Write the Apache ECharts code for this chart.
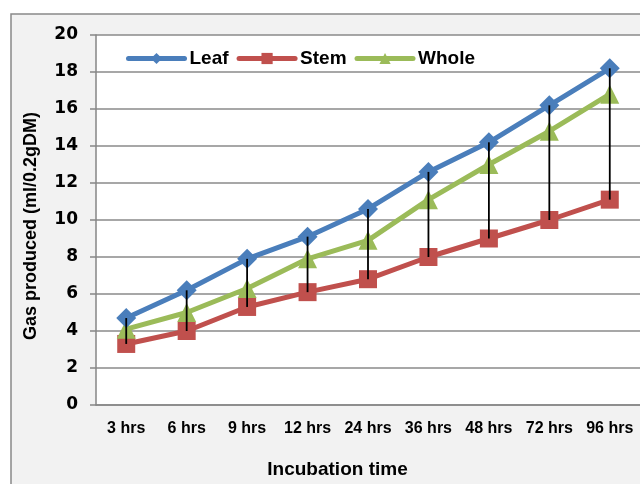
<!DOCTYPE html>
<html><head><meta charset="utf-8">
<script src="https://cdn.jsdelivr.net/npm/echarts@6/dist/echarts.min.js"></script>
<style>html,body{margin:0;padding:0;background:#fff}#c{width:640px;height:484px}</style>
</head><body><div id="c"></div>
<script>
const categories = ['3 hrs','6 hrs','9 hrs','12 hrs','24 hrs','36 hrs','48 hrs','72 hrs','96 hrs'];
const leaf  = [4.7, 6.2, 7.9, 9.1, 10.6, 12.6, 14.2, 16.2, 18.2];
const stem  = [3.3, 4.0, 5.3, 6.1, 6.8, 8.0, 9.0, 10.0, 11.1];
const whole = [4.1, 5.0, 6.3, 7.9, 8.9, 11.1, 13.0, 14.8, 16.8];
const yTicks = {min: 0, max: 20, interval: 2};

const hiLo = categories.map((c, i) => {
  const v = [leaf[i], stem[i], whole[i]];
  return [i, Math.max(...v), Math.min(...v)];
});

const lib = '"Liberation Sans", Arial, sans-serif';
const dv = '"DejaVu Sans", sans-serif';
const chart = echarts.init(document.getElementById('c'));
chart.setOption({
  backgroundColor: '#ffffff',
  animation: false,
  graphic: [{
    type: 'rect', z: -10, silent: true,
    shape: {x: 11, y: 14, width: 700, height: 600},
    style: {fill: '#f2f2f2', stroke: '#898989', lineWidth: 1.5}
  }],
  grid: {left: 96, top: 35, right: 0, bottom: 79, show: true, backgroundColor: '#ffffff', borderWidth: 0},
  legend: {
    left: 121, top: 44, itemWidth: 56, itemHeight: 14, itemGap: 8,
    lineStyle: {width: 5, cap: 'round'},
    textStyle: {fontFamily: lib, fontWeight: 'bold', fontSize: 19, color: '#000'},
    data: ['Leaf','Stem','Whole']
  },
  xAxis: {
    type: 'category', data: categories, boundaryGap: true,
    name: 'Incubation time', nameLocation: 'middle', nameGap: 55,
    nameTextStyle: {fontFamily: lib, fontWeight: 'bold', fontSize: 19, color: '#000', padding: [0, 61, 0, 0]},
    axisLine: {lineStyle: {color: '#868686', width: 1.5}},
    axisTick: {show: false},
    axisLabel: {fontFamily: lib, fontWeight: 'bold', fontSize: 16, color: '#000', margin: 16, interval: 0}
  },
  yAxis: {
    type: 'value', min: yTicks.min, max: yTicks.max, interval: yTicks.interval,
    name: 'Gas produced (ml/0.2gDM)', nameLocation: 'middle', nameGap: 56,
    nameTextStyle: {fontFamily: lib, fontWeight: 'bold', fontSize: 18, color: '#000', padding: [0, 12, 0, 0]},
    axisLine: {show: true, lineStyle: {color: '#868686', width: 1.5}},
    axisTick: {show: true, length: 6, lineStyle: {color: '#868686', width: 1.5}},
    axisLabel: {fontFamily: dv, fontWeight: 'bold', fontSize: 17, color: '#000', margin: 18},
    splitLine: {lineStyle: {color: '#8a8a8a', width: 1.5}}
  },
  series: [
    {name: 'Leaf', type: 'line', data: leaf, symbol: 'diamond', symbolSize: 20,
     itemStyle: {color: '#4a7ebb'}, lineStyle: {width: 5, color: '#4a7ebb'}, z: 3},
    {name: 'Stem', type: 'line', data: stem, symbol: 'rect', symbolSize: 18,
     itemStyle: {color: '#c0504d'}, lineStyle: {width: 5, color: '#c0504d'}, z: 2},
    {name: 'Whole', type: 'line', data: whole, symbol: 'triangle', symbolSize: 19,
     itemStyle: {color: '#9bbb59'}, lineStyle: {width: 5, color: '#9bbb59'}, z: 2},
    {type: 'custom', data: hiLo, z: 10, silent: true,
     renderItem: function(params, api) {
       const a = api.coord([api.value(0), api.value(1)]);
       const b = api.coord([api.value(0), api.value(2)]);
       return {type: 'line', shape: {x1: a[0], y1: a[1], x2: b[0], y2: b[1]},
               style: {stroke: '#000', lineWidth: 1.8}};
     }}
  ]
});
</script></body></html>
